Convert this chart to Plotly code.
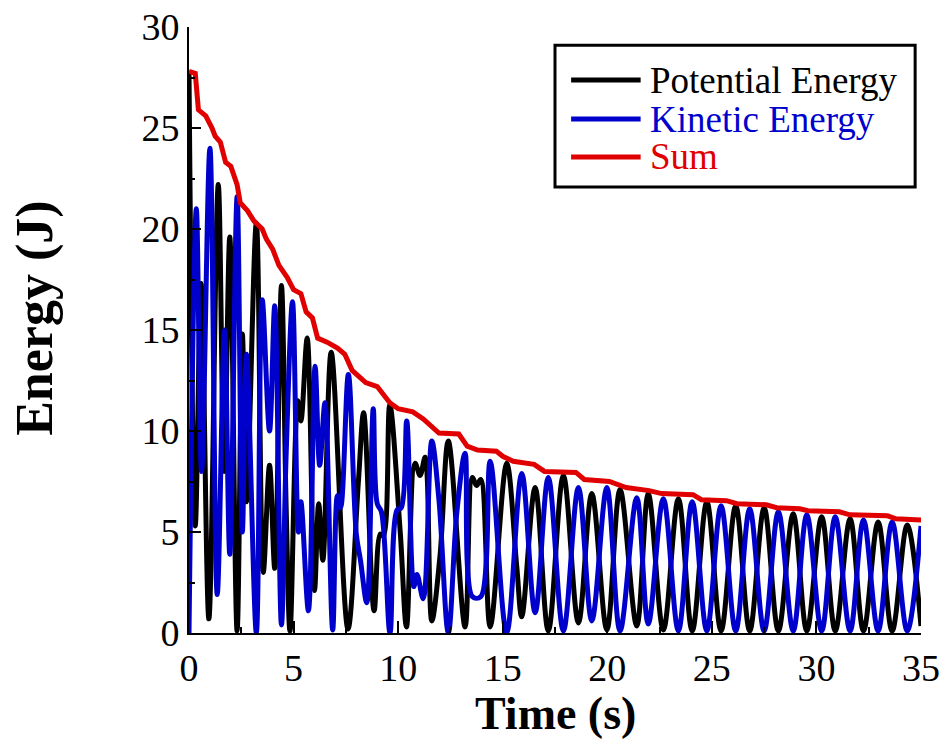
import plotly.graph_objects as go

# ---------------- data ----------------
pe_t = [0.00, 0.30, 0.58, 0.95, 1.40, 1.68, 1.95, 2.30, 2.55, 2.75, 3.22, 3.55, 3.85, 4.10,
        4.42, 4.65, 4.83, 5.20, 5.35, 5.65, 6.00, 6.20, 6.40, 6.80, 7.60, 8.10, 8.35, 8.85,
        9.15, 9.30, 9.60, 10.10, 10.40, 10.81, 11.05, 11.29, 11.61, 12.00, 12.40, 13.20,
        13.55, 13.75, 13.95, 14.40, 15.19, 15.67, 15.91, 16.55, 17.18, 17.90, 18.62, 19.26,
        19.98, 20.61, 21.41, 21.96, 22.68, 23.40, 24.06, 24.76, 25.44, 26.14, 26.81, 27.50,
        28.18, 28.89, 29.54, 30.25, 30.90, 31.61, 32.25, 32.95, 33.62, 34.34, 35.00]
pe_e = [27.8, 5.3, 17.3, 0.7, 22.2, 8.0, 19.6, 0.1, 14.8, 6.5, 20.3, 3.0, 8.3, 3.2,
        17.2, 6.0, 0.1, 11.5, 10.5, 14.6, 2.1, 6.4, 3.6, 13.9, 0.2, 7.5, 10.9, 1.1,
        4.9, 4.8, 11.3, 5.0, 0.3, 8.4, 7.8, 8.7, 0.6, 3.8, 9.5, 0.3,
        7.7, 7.3, 7.6, 0.3, 8.4, 3.3, 0.8, 7.2, 0.1, 7.8, 0.5, 6.9,
        0.15, 7.1, 0.35, 6.9, 0.15, 6.65, 0.1, 6.5, 0.1, 6.3, 0.1, 6.2,
        0.1, 5.9, 0.1, 5.75, 0.1, 5.65, 0.1, 5.5, 0.1, 5.35, 0.35]

ke_t = [0.00, 0.35, 0.60, 1.00, 1.35, 1.70, 1.95, 2.30, 2.55, 2.75, 3.22, 3.50, 3.85, 4.10,
        4.42, 4.65, 4.95, 5.23, 5.35, 5.71, 6.03, 6.25, 6.50, 6.87, 7.10, 7.25, 7.62, 8.00,
        8.20, 8.50, 8.81, 9.00, 9.20, 9.61, 9.95, 10.15, 10.41, 10.75, 10.90, 11.20, 11.61,
        11.95, 12.40, 12.80, 13.20, 13.55, 13.95, 14.40, 15.19, 15.91, 16.55, 17.18, 17.90,
        18.62, 19.26, 19.98, 20.61, 21.41, 21.96, 22.68, 23.40, 24.06, 24.76, 25.44, 26.14,
        26.81, 27.50, 28.18, 28.89, 29.54, 30.25, 30.90, 31.61, 32.25, 32.95, 33.62, 34.34,
        35.00]
ke_e = [0.0, 21.0, 8.0, 24.0, 1.9, 15.0, 3.9, 21.6, 5.0, 13.8, 0.0, 16.5, 10.0, 16.2,
        0.4, 9.0, 16.4, 5.0, 6.5, 1.1, 13.2, 8.3, 11.4, 0.15, 6.8, 6.2, 12.8, 4.9,
        3.6, 1.5, 11.1, 6.4, 6.0, 0.0, 6.1, 6.2, 10.5, 2.3, 2.9, 1.7, 9.5,
        6.6, 0.0, 5.9, 8.9, 1.8, 1.8, 8.5, 0.0, 7.9, 1.0, 7.7, 0.1,
        7.2, 0.6, 7.2, 0.1, 6.7, 0.45, 6.65, 0.1, 6.5, 0.1, 6.3, 0.1,
        6.15, 0.1, 6.0, 0.1, 5.85, 0.1, 5.75, 0.1, 5.6, 0.1, 5.5, 0.1,
        5.3]

sum_t = [0.0, 0.3, 0.45, 0.8, 1.1, 1.25, 1.5, 1.75, 2.0, 2.3, 2.45, 2.8, 3.1, 3.5, 3.7,
         4.0, 4.3, 4.7, 5.0, 5.35, 5.6, 5.9, 6.15, 6.6, 7.1, 7.45, 7.8, 8.0, 8.45, 9.0,
         9.4, 9.6, 10.0, 10.7, 11.2, 11.75, 11.95, 12.9, 13.3, 13.8, 14.7, 15.0, 15.5,
         16.5, 17.0, 18.5, 18.9, 20.1, 20.9, 22.0, 22.6, 24.1, 24.5, 25.7, 26.2, 27.6,
         28.1, 29.2, 29.6, 31.1, 31.6, 33.4, 33.8, 35.0]
sum_e = [27.8, 27.7, 25.9, 25.6, 25.0, 24.6, 24.3, 23.3, 23.1, 22.2, 21.3, 20.9, 20.4,
         20.0, 19.5, 19.0, 18.2, 17.6, 17.0, 16.8, 15.9, 15.6, 14.6, 14.4, 14.1, 13.8,
         13.0, 12.8, 12.4, 12.2, 11.6, 11.4, 11.1, 10.95, 10.6, 10.1, 9.9, 9.85, 9.25,
         9.06, 9.0, 8.75, 8.5, 8.35, 8.0, 7.95, 7.6, 7.5, 7.2, 7.05, 6.9, 6.85, 6.6,
         6.55, 6.4, 6.35, 6.2, 6.15, 6.05, 6.0, 5.85, 5.8, 5.65, 5.6]

x_ticks = [0, 5, 10, 15, 20, 25, 30, 35]
y_ticks = [0, 5, 10, 15, 20, 25, 30]
names = ["Potential Energy", "Kinetic Energy", "Sum"]
colors = ["#000000", "#0000CD", "#E00000"]

# ---------------- figure ----------------
FONT = "Liberation Serif"
fig = go.Figure()
series = [(pe_t, pe_e), (ke_t, ke_e)]
for (t, e), n, c in zip(series, names[:2], colors[:2]):
    fig.add_trace(go.Scatter(x=t, y=e, mode="lines", name=n,
                             line=dict(color=c, width=5, shape="spline", smoothing=1.0)))
fig.add_trace(go.Scatter(x=sum_t, y=sum_e, mode="lines", name=names[2],
                         line=dict(color=colors[2], width=5)))

axis_common = dict(showline=True, linecolor="black", linewidth=2, ticks="inside",
                   ticklen=12, tickwidth=1.5, tickcolor="black", showgrid=False,
                   zeroline=False, automargin=False,
                   tickfont=dict(family=FONT, size=38, color="black"),
                   minor=dict(ticks="inside", ticklen=6, tickwidth=1.5, tickcolor="black"))
fig.update_xaxes(range=[0, 35], tickvals=x_ticks, **axis_common)
fig.update_yaxes(range=[0, 30], tickvals=y_ticks, **axis_common)
fig.update_xaxes(minor_dtick=2.5)
fig.update_yaxes(minor_dtick=2.5)

# manual legend
lx0, lx1, ly0, ly1 = 0.50, 0.992, 0.736, 0.970
shapes = [dict(type="rect", xref="paper", yref="paper", x0=lx0, x1=lx1, y0=ly0, y1=ly1,
               line=dict(color="black", width=3), fillcolor="white", layer="above")]
row_y = [0.9125, 0.848, 0.7855]
annotations = []
for n, c, yy in zip(names, colors, row_y):
    shapes.append(dict(type="line", xref="paper", yref="paper", x0=0.522, x1=0.617,
                       y0=yy, y1=yy, line=dict(color=c, width=5), layer="above"))
    annotations.append(dict(text=n, xref="paper", yref="paper", x=0.627, y=yy,
                            xanchor="left", yanchor="middle", showarrow=False,
                            font=dict(family=FONT, size=37, color=c)))

annotations.append(dict(text="Time (s)", xref="paper", yref="paper", x=0.5, y=-0.1775,
                        xanchor="center", yanchor="bottom", showarrow=False,
                        font=dict(family=FONT, size=46, color="black", weight="bold")))
annotations.append(dict(text="Energy (J)", xref="paper", yref="paper", x=-0.2104, y=0.52,
                        xanchor="center", yanchor="middle", showarrow=False, textangle=-90,
                        font=dict(family=FONT, size=52, color="black", weight="bold")))

fig.update_layout(width=943, height=742, margin=dict(l=189, r=22, t=27, b=109),
                  plot_bgcolor="white", paper_bgcolor="white", showlegend=False,
                  shapes=shapes, annotations=annotations)
fig.write_html("out.html")
